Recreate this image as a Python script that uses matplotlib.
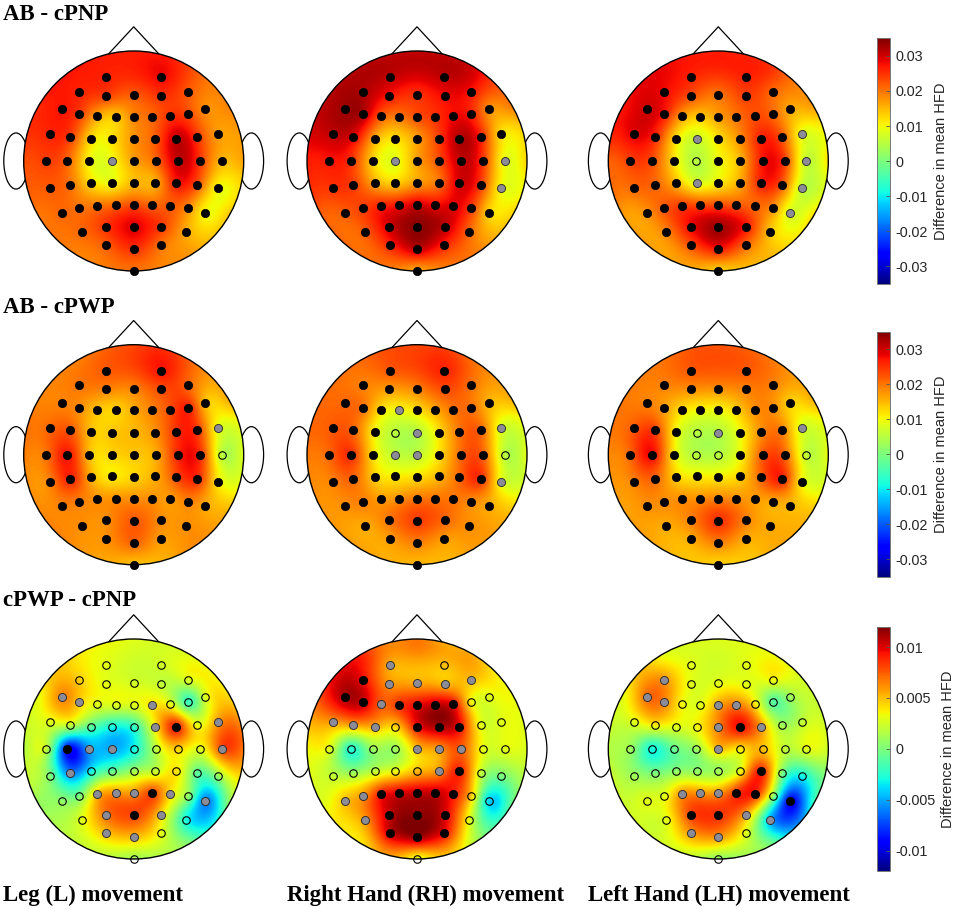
#!/usr/bin/env python3
"""Scalp maps of the difference in mean HFD between groups."""
import numpy as np
import matplotlib
matplotlib.use('Agg')
import matplotlib.pyplot as plt
from matplotlib.patches import Circle, Ellipse

# electrode positions, in head radii, row by row from the front of the head
elec_x = [-0.249, 0.249,
          -0.494, -0.252, 0, 0.252, 0.494,
          -0.652, -0.494, -0.330, -0.164, 0, 0.164, 0.330, 0.494, 0.652,
          -0.764, -0.579, -0.385, -0.197, 0, 0.197, 0.385, 0.579, 0.764,
          -0.800, -0.603, -0.403, -0.200, 0, 0.200, 0.403, 0.603, 0.800,
          -0.764, -0.579, -0.385, -0.197, 0, 0.197, 0.385, 0.579, 0.764,
          -0.652, -0.494, -0.330, -0.164, 0, 0.164, 0.330, 0.494, 0.652,
          -0.473, -0.252, 0, 0.252, 0.473,
          -0.249, 0, 0.249,
          0]
elec_y = [0.761, 0.761,
          0.630, 0.594, 0.600, 0.594, 0.630,
          0.470, 0.427, 0.406, 0.403, 0.403, 0.403, 0.406, 0.427, 0.470,
          0.245, 0.221, 0.203, 0.197, 0.200, 0.197, 0.203, 0.221, 0.245,
          0, 0, 0, 0, 0, 0, 0, 0, 0,
          -0.245, -0.221, -0.203, -0.197, -0.200, -0.197, -0.203, -0.221, -0.245,
          -0.470, -0.430, -0.406, -0.403, -0.403, -0.403, -0.406, -0.430, -0.470,
          -0.648, -0.597, -0.603, -0.597, -0.648,
          -0.764, -0.803, -0.764,
          -1.003]

# places on the head outline where the colour was read too (no electrode there)
rim_x = [0, 0.515, 0.892, 1.03, 0.892, 0.515, -0.515, -0.892, -1.03, -0.892, -0.515]
rim_y = [1.03, 0.892, 0.515, 0, -0.515, -0.892, -0.892, -0.515, 0, 0.515, 0.892]

# differences, x 1e-3
ab_cpnp_leg = [26, 28,
               26, 24, 22, 25, 22,
               27, 24, 16, 14, 19, 21, 25, 23, 18,
               26, 24, 12, 12, 18, 22, 31, 24, 17,
               24, 21, 10, 10, 17, 21, 31, 24, 15,
               22, 20, 12, 10, 15, 16, 27, 22, 10,
               21, 20, 20, 21, 23, 21, 22, 18, 10,
               21, 25, 29, 24, 16,
               22, 25, 20,
               20]
ab_cpnp_rh = [31, 31,
              32, 27, 25, 28, 27,
              33, 32, 22, 20, 23, 25, 28, 26, 18,
              31, 29, 16, 12, 17, 24, 32, 26, 12,
              27, 25, 13, 9, 17, 23, 31, 24, 9,
              25, 24, 16, 13, 17, 20, 30, 24, 10,
              22, 24, 26, 27, 30, 28, 29, 24, 13,
              22, 30, 34, 31, 21,
              26, 31, 26,
              16]
ab_cpnp_lh = [26, 26,
              28, 23, 20, 24, 21,
              30, 27, 17, 14, 17, 20, 23, 21, 16,
              29, 26, 12, 7, 12, 18, 26, 22, 9,
              24, 23, 12, 5, 10, 15, 27, 24, 6,
              21, 21, 15, 8, 11, 16, 26, 22, 6,
              18, 22, 24, 23, 23, 22, 21, 18, 8,
              19, 28, 33, 27, 14,
              23, 27, 21,
              13]
ab_cpwp_leg = [22, 27,
               20, 19, 19, 23, 21,
               19, 18, 14, 13, 16, 19, 23, 26, 14,
               21, 22, 14, 14, 15, 18, 25, 24, 9,
               20, 27, 14, 13, 14, 16, 26, 25, 5,
               19, 26, 15, 11, 13, 16, 23, 25, 11,
               19, 19, 18, 18, 18, 18, 17, 19, 16,
               18, 18, 22, 18, 18,
               18, 21, 17,
               14]
ab_cpwp_rh = [22, 26,
              19, 17, 19, 23, 20,
              21, 20, 12, 10, 12, 16, 20, 20, 15,
              22, 21, 10, 5, 5, 12, 20, 21, 8,
              21, 25, 12, 6, 6, 12, 21, 21, 5,
              19, 21, 13, 11, 12, 15, 21, 25, 9,
              18, 19, 17, 18, 20, 20, 20, 18, 16,
              16, 20, 24, 21, 18,
              17, 19, 17,
              15]
ab_cpwp_lh = [22, 22,
              19, 18, 18, 19, 19,
              19, 17, 12, 10, 10, 13, 18, 18, 13,
              22, 24, 10, 5, 5, 10, 18, 19, 8,
              21, 28, 11, 5, 5, 10, 22, 21, 6,
              19, 21, 13, 11, 11, 13, 21, 26, 10,
              18, 18, 18, 18, 19, 18, 17, 16, 15,
              16, 19, 25, 19, 16,
              16, 19, 16,
              13]
cpwp_cpnp_leg = [3, 2.5,
                 4.5, 3, 2.5, 2, 3,
                 6.5, 4.5, 3, 3, 3, 4, 3, -2, 3,
                 3, 2.5, -1, -3, -2, 4, 9, 3, 6,
                 2, -9, -5, -5, -3, 2, 4.5, 3, 8,
                 0, -6, -3, -1, 1, 2, 4, -1, 1,
                 0.5, 0, 5, 6, 6, 8, 4, 0.5, -6,
                 3, 7, 8, 4, -3,
                 5, 5, 3,
                 1]
cpwp_cpnp_rh = [5.5, 5,
                9.5, 6, 5.5, 5, 5,
                11, 10.5, 7.5, 8.5, 9.5, 10.5, 9.5, 3.5, 3,
                6, 6, 5.5, 4.5, 9.5, 11, 9.5, 3, 3,
                3, -2.5, 1, 1, 5, 6, 7.5, 3, 3,
                2, 1, 2, 3, 5, 6, 9, 2, 0,
                5, 6, 9, 10, 10.5, 10.5, 9, 4.5, -4,
                6, 10.5, 11.5, 10, 3,
                10.5, 11.5, 9.5,
                3]
cpwp_cpnp_lh = [3, 3,
                6, 3, 3, 3, 3.5,
                7, 6.5, 3.5, 3, 5.5, 6.5, 4, -1, 1,
                3, 4, 3, 3.5, 6.5, 9.5, 6, 1, 2,
                1, -3, -0.5, 1, 5, 4, 5, 2, 3,
                1, 0, 0.5, 0.5, 1, 3, 9, 0, -3,
                3, 3, 6, 6, 6, 8.5, 9, 1, -9,
                3, 8, 8.5, 5.5, -5,
                6, 6, 3,
                0.5]

# rim colours, same units, clockwise from the nose
rim_ab_cpnp_leg = [26, 23, 19, 17, 15, 18, 19, 20, 23, 26, 27]
rim_ab_cpnp_rh = [30, 29, 20, 14, 14, 20, 21, 22, 27, 31, 31]
rim_ab_cpnp_lh = [26, 24, 17, 13, 13, 15, 17, 18, 22, 27, 28]
rim_ab_cpwp_leg = [23, 21, 17, 10, 15, 18, 18, 19, 20, 19, 19]
rim_ab_cpwp_rh = [23, 20, 16, 10, 14, 17, 17, 18, 20, 21, 21]
rim_ab_cpwp_lh = [22, 19, 16, 10, 14, 16, 16, 17, 19, 20, 20]
rim_cpwp_cpnp_leg = [3, 2.5, 3.5, 6, 1.5, 0.5, 2, 1, 1.5, 3, 4]
rim_cpwp_cpnp_rh = [6.5, 5, 3, 2.5, 0.5, 2, 4, 3, 3.5, 8, 8.5]
rim_cpwp_cpnp_lh = [3, 3, 2, 2, -1, 0, 2.5, 2.5, 2, 3, 3]

# k = filled black, g = grey, o = open; same order as the values
sig_ab_cpnp_leg = "kk kkkkk kkkkkkkkk kkkkkkkkk kkkgkkkkk kkkkkkkkk kkkkkkkkk kkkkk kkk k"
sig_ab_cpnp_rh = "kk kkkkk kkkkkkkkk kkkkkkkkk kkkgkkkkg kkkkkkkkg kkkkkkkkk kkkkk kkk k"
sig_ab_cpnp_lh = "kk kkkkk kkkkkkkkk kkkgkkkkg kkkokkkkg kkkgkkkkg kkkkkkkkg kkkkk kkk k"
sig_ab_cpwp_leg = "kk kkkkk kkkkkkkkk kkkkkkkkg kkkkkkkko kkkkkkkkk kkkkkkkkk kkkkk kkk k"
sig_ab_cpwp_rh = "kk kkkkk kkkgkkkkk kkkogkkkg kkkggkkko kkkkkkkkg kkkkkkkkk kkkkk kkk k"
sig_ab_cpwp_lh = "kk kkkkk kkkkkkkkk kkkogkkkg kkkookkko kkkkkkkkk kkkkkkkkk kkkkk kkk k"
sig_cpwp_cpnp_leg = "oo ooooo ggooogooo ooooogkog okggoooog ogooooooo oogggkgog ogkgo ggo o"
sig_cpwp_cpnp_rh = "go kgggg kkgkkkkoo gggokkkoo oooogggoo oooooogkoo ggkkkkkoo gkkko kkk o".replace("oooooogkoo", "oooooGkoo").replace("G", "g")
sig_cpwp_cpnp_lh = "oo goooo ggooggooo oooogkgoo oooogoooo ooooookoo oogggkkok okkgg ggo o"

titles = ["AB - cPNP", "AB - cPWP", "cPWP - cPNP"]
movements = ["Leg (L) movement", "Right Hand (RH) movement", "Left Hand (LH) movement"]
cbar_label = "Difference in mean HFD"
limits = [0.035, 0.035, 0.012]
ticks_wide = [0.03, 0.02, 0.01, 0, -0.01, -0.02, -0.03]
labels_wide = ["0.03", "0.02", "0.01", "0", "-0.01", "-0.02", "-0.03"]
ticks_narrow = [0.01, 0.005, 0, -0.005, -0.01]
labels_narrow = ["0.01", "0.005", "0", "-0.005", "-0.01"]

W, H = 957, 909
R = 110.0
HALF = 140.0
COL_X = [133.7, 417.0, 718.3]
ROW_Y = [161.0, 454.7, 749.0]
CBAR_BOX = [(38.3, 284.0), (331.7, 576.7), (626.7, 871.0)]
CBAR_LABEL_X = [941, 941, 947.5]
GREY = '#8c8c98'


def biharmonic(xi, yi, x, y, v):
    # same idea as griddata v4, which is what the scalp maps use
    d = np.hypot(x[:, None] - x[None, :], y[:, None] - y[None, :])
    with np.errstate(divide='ignore', invalid='ignore'):
        g = d ** 2 * (np.log(d) - 1)
    g[d == 0] = 0
    w = np.linalg.solve(g, v)
    d2 = np.hypot(xi[..., None] - x, yi[..., None] - y)
    with np.errstate(divide='ignore', invalid='ignore'):
        g2 = d2 ** 2 * (np.log(d2) - 1)
    g2[d2 == 0] = 0
    return (g2 * w).sum(axis=-1)


def draw_head(cx, cy, values, rim, sig, vmax):
    ax = fig.add_axes([(cx - HALF) / W, 1 - (cy + HALF) / H, 2 * HALF / W, 2 * HALF / H])
    lim = HALF / R
    ax.set_xlim(-lim, lim)
    ax.set_ylim(-lim, lim)
    ax.axis('off')

    x = np.array(elec_x)
    y = np.array(elec_y)
    all_x = np.concatenate([x, rim_x])
    all_y = np.concatenate([y, rim_y])
    v = np.concatenate([values, rim]) / 1000.0
    gx, gy = np.meshgrid(np.linspace(-1.01, 1.01, 280), np.linspace(-1.01, 1.01, 280))
    z = biharmonic(gx, gy, all_x, all_y, v)

    # nose and ears go under the head
    ax.plot([-0.227, 0, 0.227], [0.975, 1.22, 0.975], color='black', lw=0.9, zorder=1)
    for side in (-1, 1):
        ax.add_patch(Ellipse((side * 1.07, 0), 0.222, 0.51, fc='white', ec='black', lw=0.9, zorder=1))

    ax.add_patch(Circle((0, 0), 1.0, fc='white', ec='none', zorder=2))
    im = ax.imshow(z, extent=[-1.01, 1.01, -1.01, 1.01], origin='lower', cmap='jet',
                   vmin=-vmax, vmax=vmax, interpolation='bilinear', zorder=3)
    clip = Circle((0, 0), 1.0, transform=ax.transData)
    im.set_clip_path(clip)
    ax.add_patch(Circle((0, 0), 1.0, fc='none', ec='black', lw=1.0, zorder=4))

    sig = sig.replace(" ", "")
    for i in range(len(x)):
        if sig[i] == 'k':
            ax.plot(x[i], y[i], 'o', ms=6.0, mfc='black', mec='black', mew=0.5, zorder=5, clip_on=False)
        elif sig[i] == 'g':
            ax.plot(x[i], y[i], 'o', ms=5.8, mfc=GREY, mec='#222222', mew=0.6, zorder=5, clip_on=False)
        else:
            ax.plot(x[i], y[i], 'o', ms=5.4, mfc='none', mec='black', mew=0.8, zorder=5, clip_on=False)
    return im


def draw_cbar(im, box, ticks, labels, label_x):
    top, bottom = box
    cax = fig.add_axes([876.7 / W, 1 - bottom / H, 13.3 / W, (bottom - top) / H])
    cb = fig.colorbar(im, cax=cax)
    cb.set_ticks(ticks, labels=labels)
    cb.ax.tick_params(direction='in', length=3, width=0.6, color='#555555', labelsize=10.4,
                      labelcolor='#262626', pad=4)
    cb.ax.minorticks_off()
    cb.outline.set_edgecolor('#777777')
    cb.outline.set_linewidth(0.7)
    for t in cb.ax.get_yticklabels():
        t.set_family('Liberation Sans')
    cy = (top + bottom) / 2
    fig.text(label_x / W, 1 - cy / H, cbar_label, rotation=90, ha='center', va='center',
             fontsize=10.5, color='#262626', family='Liberation Sans')


fig = plt.figure(figsize=(W / 100, H / 100), dpi=100)

maps = [[ab_cpnp_leg, ab_cpnp_rh, ab_cpnp_lh],
        [ab_cpwp_leg, ab_cpwp_rh, ab_cpwp_lh],
        [cpwp_cpnp_leg, cpwp_cpnp_rh, cpwp_cpnp_lh]]
rims = [[rim_ab_cpnp_leg, rim_ab_cpnp_rh, rim_ab_cpnp_lh],
        [rim_ab_cpwp_leg, rim_ab_cpwp_rh, rim_ab_cpwp_lh],
        [rim_cpwp_cpnp_leg, rim_cpwp_cpnp_rh, rim_cpwp_cpnp_lh]]
sigs = [[sig_ab_cpnp_leg, sig_ab_cpnp_rh, sig_ab_cpnp_lh],
        [sig_ab_cpwp_leg, sig_ab_cpwp_rh, sig_ab_cpwp_lh],
        [sig_cpwp_cpnp_leg, sig_cpwp_cpnp_rh, sig_cpwp_cpnp_lh]]

for r in range(3):
    for c in range(3):
        im = draw_head(COL_X[c], ROW_Y[r], maps[r][c], rims[r][c], sigs[r][c], limits[r])
    if r < 2:
        draw_cbar(im, CBAR_BOX[r], ticks_wide, labels_wide, CBAR_LABEL_X[r])
    else:
        draw_cbar(im, CBAR_BOX[r], ticks_narrow, labels_narrow, CBAR_LABEL_X[r])

title_base = [19.5, 313.0, 606.5]
for r in range(3):
    fig.text(3 / W, 1 - title_base[r] / H, titles[r], fontsize=16.5, fontweight='bold',
             family='Liberation Serif', va='baseline', ha='left')
for c, x0 in enumerate([3, 287, 588]):
    fig.text(x0 / W, 1 - 901 / H, movements[c], fontsize=16.5, fontweight='bold',
             family='Liberation Serif', va='baseline', ha='left')

fig.savefig('out.png', dpi=100)
